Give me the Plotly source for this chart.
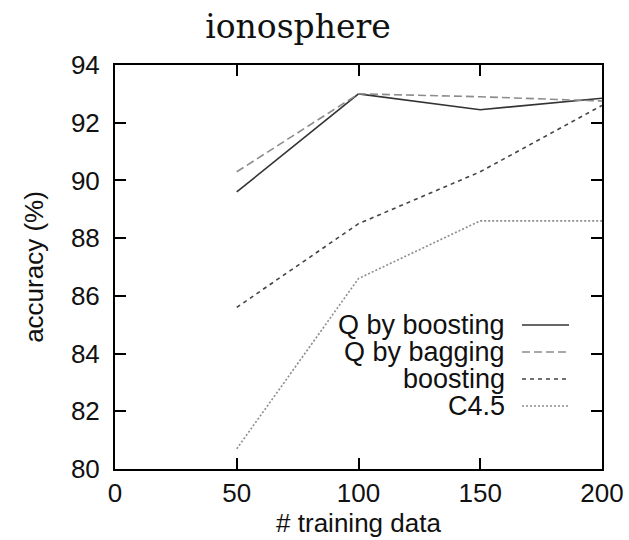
import plotly.graph_objects as go

training = [50, 100, 150, 200]
q_boosting = [89.6, 93.0, 92.45, 92.85]
q_bagging = [90.3, 93.0, 92.9, 92.75]
boosting = [85.6, 88.5, 90.3, 92.6]
c45 = [80.7, 86.6, 88.6, 88.6]

series_names = ["Q by boosting", "Q by bagging", "boosting", "C4.5"]
series_values = [q_boosting, q_bagging, boosting, c45]
styles = [
    dict(color="#333333", width=1.6, dash="solid"),
    dict(color="#8c8c8c", width=1.6, dash="8px,4px"),
    dict(color="#444444", width=1.6, dash="4px,4px"),
    dict(color="#8c8c8c", width=1.6, dash="2px,2px"),
]

x_ticks = [0, 50, 100, 150, 200]
y_ticks = [80, 82, 84, 86, 88, 90, 92, 94]

W, H = 629, 540
L, R, T, B = 115, 27, 65, 71
plot_h = H - T - B
plot_w = W - L - R
SANS = "Liberation Sans, Arial, sans-serif"
FS = 26

fig = go.Figure()
for name, vals, st in zip(series_names, series_values, styles):
    fig.add_trace(go.Scatter(x=training, y=vals, mode="lines", name=name,
                             line=st, showlegend=False, hoverinfo="skip"))

# manual legend (text right, sample on right like gnuplot)
row_px = [325, 352, 379, 406]
annotations = []
shapes = []
for name, st, ypx in zip(series_names, styles, row_px):
    yp = (H - B - ypx) / plot_h
    annotations.append(dict(x=(503 - L) / plot_w, y=yp, xref="paper", yref="paper",
                            text=name, showarrow=False, xanchor="right", yanchor="middle",
                            xshift=4,
                            font=dict(family=SANS, size=27, color="#111111")))
    shapes.append(dict(type="line", xref="paper", yref="paper",
                       x0=(522 - L) / plot_w, x1=(569 - L) / plot_w, y0=yp, y1=yp,
                       line=dict(color=st["color"], width=st["width"], dash=st["dash"])))

fig.update_layout(
    width=W, height=H,
    margin=dict(l=L, r=R, t=T, b=B, autoexpand=False),
    paper_bgcolor="white", plot_bgcolor="white",
    font=dict(family=SANS, size=FS, color="#111111"),
    title=dict(text="ionosphere", x=298 / W, xanchor="center", y=1 - 26 / H, yanchor="middle",
               font=dict(family="DejaVu Serif, serif", size=33, color="#111111")),
    annotations=annotations,
    shapes=shapes,
)
fig.update_xaxes(range=[0, 200], tickvals=x_ticks, ticks="inside", ticklen=11, tickwidth=2,
                 tickcolor="black", showline=True, linecolor="black", linewidth=2, mirror="ticks",
                 showgrid=False, zeroline=False, automargin=False,
                 title=dict(text="# training data", standoff=2, font=dict(size=FS)))
fig.update_yaxes(range=[80, 94], tickvals=y_ticks, ticks="inside", ticklen=11, tickwidth=2,
                 tickcolor="black", showline=True, linecolor="black", linewidth=2, mirror="ticks",
                 showgrid=False, zeroline=False, ticklabelstandoff=8, automargin=False,
                 title=dict(text="accuracy (%)", standoff=20, font=dict(size=FS)))

fig.write_html("out.html", config={"displayModeBar": False},
               post_script="document.body.style.margin='0px';document.body.style.overflow='hidden';")
